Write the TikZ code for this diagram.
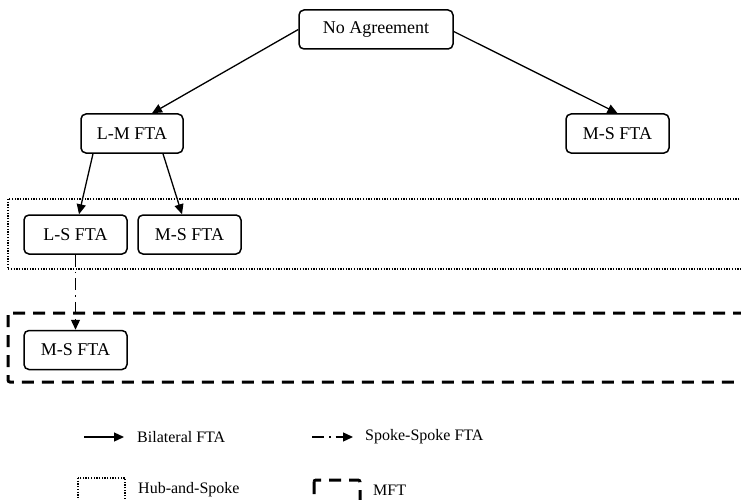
\documentclass[tikz,border=0pt]{standalone}
\usepackage{fontspec}
\setmainfont{Liberation Serif}
\usetikzlibrary{arrows.meta}
\begin{document}
\begin{tikzpicture}[x=1pt,y=-1pt,
  fta/.style={draw, line width=1.5pt, rounded corners=5pt, minimum width=103pt, minimum height=39pt, inner sep=0pt, font=\fontsize{18}{21}\selectfont},
  bil/.style={line width=1.3pt, -{Triangle[length=10pt,width=9pt]}},
  spk/.style={line width=1.3pt, dash pattern=on 12pt off 5pt on 1.5pt off 5pt, -{Triangle[length=10pt,width=9pt]}},
  hub/.style={line width=1.3pt, dash pattern=on 1.3pt off 1.4pt},
  mft/.style={line width=3pt, dash pattern=on 12pt off 8pt, rounded corners=2pt},
  leg/.style={anchor=west, inner sep=0pt, font=\fontsize{16}{19}\selectfont}]
\useasboundingbox (0,0) rectangle (741,500);
\clip (0,0) rectangle (741,500);
% group boxes
\draw[hub] (8,199) rectangle (760,269);
\draw[mft] (8,313) rectangle (770,382);
% nodes
\node[fta, minimum width=154pt] (na) at (376,29.5) {No Agreement};
\node[fta, minimum width=102pt] (lm) at (132,133.5) {L-M FTA};
\node[fta] (msr) at (617.5,133.5) {M-S FTA};
\node[fta] (ls) at (75.5,234.5) {L-S FTA};
\node[fta] (msm) at (189.5,234.5) {M-S FTA};
\node[fta] (msb) at (75.5,350) {M-S FTA};
% connectors
\draw[bil] (na.west) -- ([xshift=20pt]lm.north);
\draw[bil] ([yshift=-2pt]na.east) -- (msr.north);
\draw[bil] ([xshift=-39pt]lm.south) -- ([xshift=3.5pt]ls.north);
\draw[bil] ([xshift=31pt]lm.south) -- ([xshift=-7.5pt]msm.north);
\draw[spk] (ls.south) -- (msb.north);
% legend
\coordinate (b1) at (84,437);
\coordinate (b2) at (124,437);
\draw[bil] (b1) -- (b2);
\node[leg] (bt) at (137,437) {Bilateral FTA};
\coordinate (s1) at (312,437);
\coordinate (s2) at (353,437);
\draw[spk] (s1) -- (s2);
\node[leg] (st) at (365,437) {Spoke-Spoke FTA};
\draw[hub] (78,478) rectangle (125,515);
\node[leg] (ht) at (138,490) {Hub-and-Spoke};
\draw[mft] (314,480) rectangle (360,520);
\node[leg] (mt) at (373,490) {MFT};
\end{tikzpicture}
\end{document}
